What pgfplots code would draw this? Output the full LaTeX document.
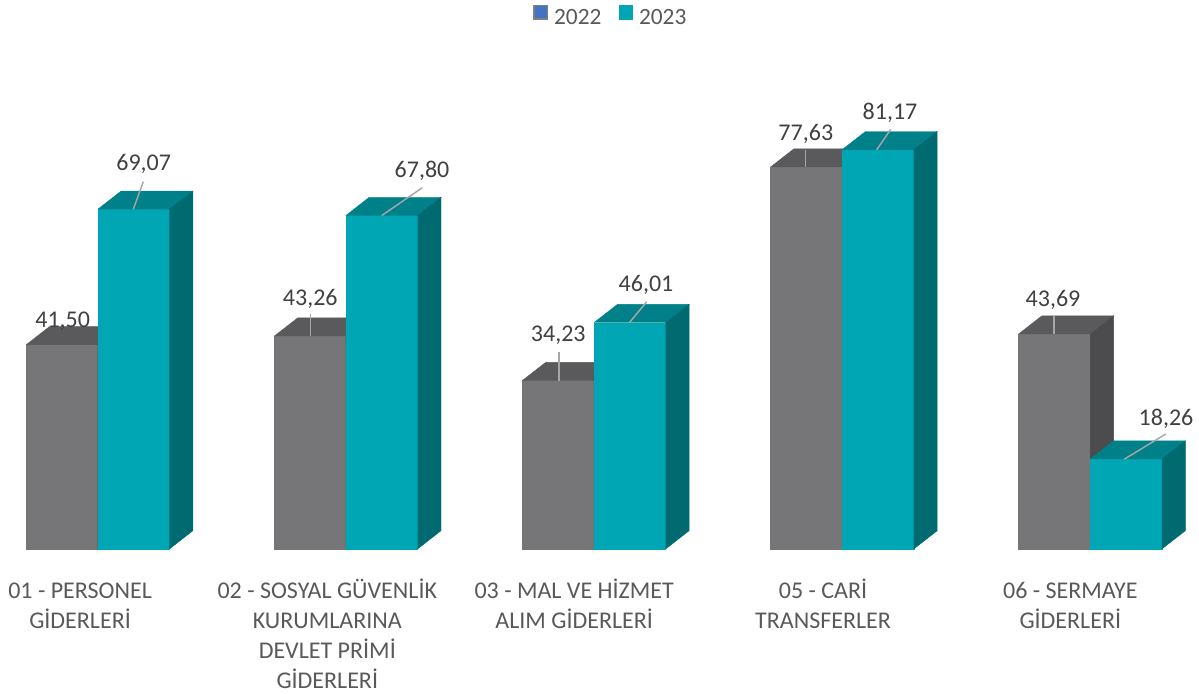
\documentclass[border=0pt]{standalone}
\usepackage{fontspec}
\setmainfont{Carlito}
\usepackage{pgfplots}
\pgfplotsset{compat=1.18}
\definecolor{gf}{RGB}{118,118,121}
\definecolor{gt}{RGB}{90,90,92}
\definecolor{gs}{RGB}{76,76,78}
\definecolor{tf}{RGB}{0,166,180}
\definecolor{tt}{RGB}{0,128,136}
\definecolor{ts}{RGB}{0,106,113}
\definecolor{legblue}{RGB}{68,114,196}
\definecolor{valtxt}{RGB}{64,64,64}
\definecolor{cattxt}{RGB}{89,89,89}
\definecolor{leadc}{RGB}{166,166,166}
\def\bw{0.289}\def\dx{0.0947}\def\dy{3.72}
\newcommand\tdbar[5]{%
 \pgfmathsetmacro\xa{#1}%
 \pgfmathsetmacro\xb{#1+\bw}%
 \pgfmathsetmacro\xc{#1+\dx}%
 \pgfmathsetmacro\xd{#1+\bw+\dx}%
 \pgfmathsetmacro\yt{#2+\dy}%
 \edef\tmp{%
  \noexpand\addplot[fill=#3,draw=#3,line width=0.3pt,forget plot] coordinates {(\xa,0) (\xb,0) (\xb,#2) (\xa,#2)};
  \noexpand\addplot[fill=#4,draw=#4,line width=0.3pt,forget plot] coordinates {(\xa,#2) (\xc,\yt) (\xd,\yt) (\xb,#2)};
  \noexpand\addplot[fill=#5,draw=#5,line width=0.3pt,forget plot] coordinates {(\xb,0) (\xd,\dy) (\xd,\yt) (\xb,#2)};
 }\tmp}
\begin{document}
\begin{tikzpicture}
\begin{axis}[
 width=899.25pt, height=519.75pt, scale only axis,
 xmin=-0.3938, xmax=4.4389, ymin=-29.28, ymax=111.63,
 hide axis, clip=false,
 legend columns=2,
 legend image code/.code={\draw[#1] (0pt,-0.5pt) rectangle (10pt,9.5pt); \path[draw=none,fill=none] (10pt,0pt) -- (13pt,0pt);},
 legend style={at={(0.5098,0.997)}, anchor=north, draw=none, fill=none,
   font=\fontsize{17.5}{20}\selectfont, text=cattxt,
   /tikz/every even column/.append style={column sep=11pt}},
 lead/.style={draw=leadc, line width=1.1pt, forget plot},
]
\addlegendimage{fill=legblue, draw=gray, line width=1pt}
\addlegendentry{2022}
\addlegendimage{fill=tf, draw=tf}
\addlegendentry{2023}

% 2022 (grey) and 2023 (teal): left edge, value
\tdbar{-0.289}{41.50}{gf}{gt}{gs}
\tdbar{0}{69.07}{tf}{tt}{ts}
\tdbar{0.711}{43.26}{gf}{gt}{gs}
\tdbar{1}{67.80}{tf}{tt}{ts}
\tdbar{1.711}{34.23}{gf}{gt}{gs}
\tdbar{2}{46.01}{tf}{tt}{ts}
\tdbar{2.711}{77.63}{gf}{gt}{gs}
\tdbar{3}{81.17}{tf}{tt}{ts}
\tdbar{3.711}{43.69}{gf}{gt}{gs}
\tdbar{4}{18.26}{tf}{tt}{ts}

% leader lines
\addplot[lead] coordinates {(0.1435,69.07) (0.1838,74.69)};
\addplot[lead] coordinates {(0.8585,43.26) (0.8585,47.72)};
\addplot[lead] coordinates {(1.1447,67.80) (1.3084,73.46)};
\addplot[lead] coordinates {(1.8593,34.23) (1.8593,40.12)};
\addplot[lead] coordinates {(2.1427,46.01) (2.2128,50.28)};
\addplot[lead] coordinates {(2.8537,77.63) (2.8537,81.13)};
\addplot[lead] coordinates {(3.1399,81.17) (3.1963,85.34)};
\addplot[lead] coordinates {(3.8545,43.69) (3.8545,47.38)};
\addplot[lead] coordinates {(4.1378,18.26) (4.3047,23.38)};

% value labels
\addplot[draw=none, mark=none, forget plot, nodes near coords,
  point meta=explicit symbolic,
  every node near coord/.style={anchor=base, inner sep=0pt,
    font=\fontsize{18}{22}\selectfont, text=valtxt}]
 coordinates {
 (-0.1411,45.08) [41,50]
 (0.1854,76.92) [69,07]
 (0.8569,49.61) [43,26]
 (1.3071,75.58) [67,80]
 (1.8565,42.15) [34,23]
 (2.2100,52.32) [46,01]
 (2.8541,83.16) [77,63]
 (3.1934,87.23) [81,17]
 (3.8505,49.27) [43,69]
 (4.3059,25.21) [18,26]
 };

% category labels
\begin{scope}[every node/.style={anchor=north, inner sep=0pt, align=center,
   font=\fontsize{18}{22.5}\selectfont, text=cattxt}]
\node at (axis cs:-0.071,-5.63) {\rule{0pt}{16pt}01 - PERSONEL\\GİDERLERİ};
\node at (axis cs:0.9254,-5.63) {\rule{0pt}{16pt}02 - SOSYAL GÜVENLİK\\KURUMLARINA\\DEVLET PRİMİ\\GİDERLERİ};
\node at (axis cs:1.9206,-5.63) {\rule{0pt}{16pt}03 - MAL VE HİZMET\\ALIM GİDERLERİ};
\node at (axis cs:2.9234,-5.63) {\rule{0pt}{16pt}05 - CARİ\\TRANSFERLER};
\node at (axis cs:3.9202,-5.63) {\rule{0pt}{16pt}06 - SERMAYE\\GİDERLERİ};
\end{scope}
\end{axis}
\pgfresetboundingbox
\path (current axis.south west) rectangle (current axis.north east);
\end{tikzpicture}
\end{document}
